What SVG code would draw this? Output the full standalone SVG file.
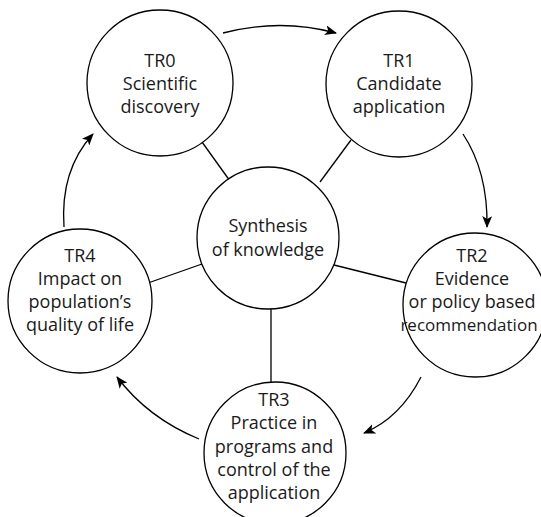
<svg xmlns="http://www.w3.org/2000/svg" width="541" height="517" viewBox="0 0 541 517">
<defs>
<style>
.node circle{fill:#fff;stroke:#000;stroke-width:1.3}
.node text{font-family:"Open Sans","DejaVu Sans",sans-serif;font-size:18px;fill:#1a1a1a;text-anchor:middle}
.spoke{stroke:#000;stroke-width:1.3;fill:none}
.arc{stroke:#000;stroke-width:1.3;fill:none;marker-end:url(#ah)}
</style>
<marker id="ah" viewBox="0 0 12 10" refX="11" refY="5" markerWidth="12" markerHeight="10" markerUnits="userSpaceOnUse" orient="auto">
<path d="M0,0 L12,5 L0,10 L3,5 z" fill="#000"/>
</marker>
</defs>
<rect width="541" height="517" fill="#fff"/>
<g id="connectors">
<line class="spoke" x1="202" y1="142" x2="230" y2="181"/>
<line class="spoke" x1="351" y1="140" x2="320" y2="182"/>
<line class="spoke" x1="148" y1="283" x2="202" y2="264"/>
<line class="spoke" x1="334" y1="265" x2="406" y2="283"/>
<line class="spoke" x1="271" y1="309" x2="271" y2="382"/>
<path class="arc" d="M223,33 Q280,18 336,33"/>
<path class="arc" d="M463,134 Q488,172 487,227"/>
<path class="arc" d="M421,377 Q400,418 364,433"/>
<path class="arc" d="M199,439 Q148,418 117,377"/>
<path class="arc" d="M64,227 Q60,170 93,134"/>
</g>
<g id="TR0" class="node">
<circle cx="160" cy="83" r="73"/>
<text x="160" y="67">TR0</text>
<text x="160" y="90">Scientific</text>
<text x="160" y="113">discovery</text>
</g>
<g id="TR1" class="node">
<circle cx="399" cy="84" r="73"/>
<text x="399" y="67">TR1</text>
<text x="399" y="90">Candidate</text>
<text x="399" y="113">application</text>
</g>
<g id="center" class="node">
<circle cx="268" cy="238" r="71"/>
<text x="268" y="232">Synthesis</text>
<text x="268" y="256">of knowledge</text>
</g>
<g id="TR2" class="node">
<circle cx="475" cy="305" r="72"/>
<text x="472" y="262">TR2</text>
<text x="472" y="285">Evidence</text>
<text x="472" y="308">or policy based</text>
<text x="469" y="331" style="font-size:17px">recommendation</text>
</g>
<g id="TR3" class="node">
<circle cx="275" cy="453" r="71"/>
<text x="274" y="406">TR3</text>
<text x="274" y="429">Practice in</text>
<text x="274" y="453">programs and</text>
<text x="274" y="476">control of the</text>
<text x="274" y="499">application</text>
</g>
<g id="TR4" class="node">
<circle cx="80" cy="301" r="72"/>
<text x="80" y="262">TR4</text>
<text x="80" y="285">Impact on</text>
<text x="80" y="308">population’s</text>
<text x="80" y="331">quality of life</text>
</g>
</svg>
